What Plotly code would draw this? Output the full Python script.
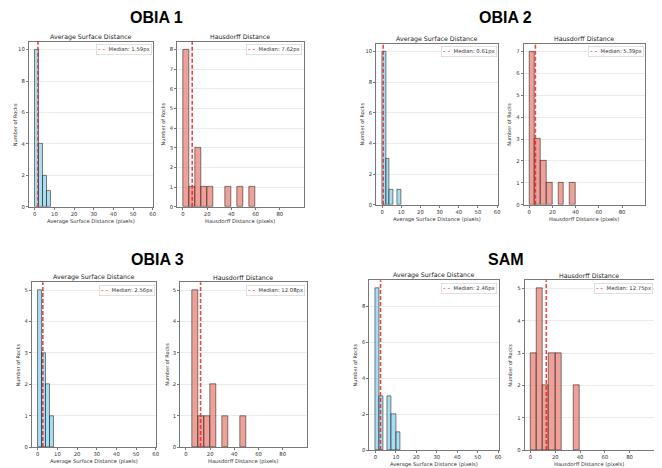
import plotly.graph_objects as go

# page body has an 8px margin: the figure is drawn from (8, 8) of the window
OFF = 8
W, H = 662 - OFF, 468 - OFF

# ---------------- data ----------------
methods = ["OBIA 1", "OBIA 2", "OBIA 3", "SAM"]

asd_bin_width = 2
asd_bin_starts = [0, 2, 4, 6, 8, 10]
obia1_asd_counts = [10, 4, 2, 1, 0, 0]
obia2_asd_counts = [10, 3, 1, 0, 1, 0]
obia3_asd_counts = [5, 3, 2, 1, 0, 0]
sam_asd_counts = [9, 3, 0, 3, 2, 1]

hd_bin_width = 5
hd_bin_starts = [0, 5, 10, 15, 20, 25, 30, 35, 40, 45, 50, 55]
obia1_hd_counts = [8, 1, 3, 1, 1, 0, 0, 1, 0, 1, 0, 1]
obia2_hd_counts = [7, 3, 2, 1, 0, 1, 0, 1, 0, 0, 0, 0]
obia3_hd_counts = [0, 5, 1, 1, 2, 0, 1, 0, 0, 1, 0, 0]
sam_hd_counts = [3, 5, 2, 3, 3, 0, 0, 2, 0, 0, 0, 0]

asd_medians = [1.59, 0.61, 2.56, 2.46]
hd_medians = [7.62, 5.39, 12.08, 12.75]

asd_ticks = [0, 10, 20, 30, 40, 50, 60]
hd_ticks = [0, 20, 40, 60, 80]

asd_title = "Average Surface Distance"
hd_title = "Hausdorff Distance"
asd_xlabel = "Average Surface Distance (pixels)"
hd_xlabel = "Hausdorff Distance (pixels)"
ylabel = "Number of Rocks"

# ---------------- layout geometry (window pixels) ----------------
asd_boxes = [(29, 154, 42, 208), (378, 500, 44, 206), (32, 157, 284, 450), (371, 501, 282, 453)]
hd_boxes = [(178, 305, 42, 208), (526, 648, 44, 206), (181, 308, 284, 450), (527, 657, 282, 453)]
title_pos = [(157, 18), (508, 18), (158, 261), (508, 261)]

asd_counts_all = [obia1_asd_counts, obia2_asd_counts, obia3_asd_counts, sam_asd_counts]
hd_counts_all = [obia1_hd_counts, obia2_hd_counts, obia3_hd_counts, sam_hd_counts]

ASD_FILL = "rgba(135,206,235,0.72)"
HD_FILL = "rgba(232,130,118,0.75)"
EDGE = "rgba(0,0,0,0.6)"
MED = "rgba(235,35,35,0.85)"
FONT = "DejaVu Sans"
TXT = "#333"

fig = go.Figure()
layout = dict(
    width=W, height=H, margin=dict(l=0, r=0, t=0, b=0),
    paper_bgcolor="white", plot_bgcolor="white", showlegend=False,
    font=dict(family=FONT, color=TXT),
)
annotations = []
shapes = []

def px(v):
    return (v - OFF) / W

def py(v):
    return 1 - (v - OFF) / H

def dom_x(a, b):
    return [px(a), px(b)]

def dom_y(t, b):
    return [py(b), py(t)]

ax_i = 0
for m_i, method in enumerate(methods):
    for kind in ("asd", "hd"):
        ax_i += 1
        xa = "x" if ax_i == 1 else f"x{ax_i}"
        ya = "y" if ax_i == 1 else f"y{ax_i}"
        xkey = "xaxis" if ax_i == 1 else f"xaxis{ax_i}"
        ykey = "yaxis" if ax_i == 1 else f"yaxis{ax_i}"
        if kind == "asd":
            box = asd_boxes[m_i]
            counts = asd_counts_all[m_i]
            starts = asd_bin_starts
            bw = asd_bin_width
            fill = ASD_FILL
            med = asd_medians[m_i]
            xr = [-3, 60.3]
            ticks = asd_ticks
            title = asd_title
            xlabel = asd_xlabel
        else:
            box = hd_boxes[m_i]
            counts = hd_counts_all[m_i]
            starts = hd_bin_starts
            bw = hd_bin_width
            fill = HD_FILL
            med = hd_medians[m_i]
            xr = [-4.75, 99.75]
            ticks = hd_ticks
            title = hd_title
            xlabel = hd_xlabel
        xs = [s for s, c in zip(starts, counts) if c > 0]
        ys = [c for c in counts if c > 0]
        fig.add_trace(go.Bar(
            x=xs, y=ys, width=[bw] * len(xs), offset=0,
            marker=dict(color=fill, line=dict(color=EDGE, width=0.8)),
            xaxis=xa, yaxis=ya, hoverinfo="skip",
        ))
        ymax = max(counts)
        dt = 2 if ymax >= 9 else 1
        l, r, t, b = box
        layout[xkey] = dict(
            domain=dom_x(l, r), anchor=ya, range=xr, tickvals=ticks,
            showgrid=False, zeroline=False, showline=True, mirror=True,
            linecolor="#777", linewidth=1, ticks="outside", ticklen=2,
            tickcolor="#777", tickfont=dict(size=5.3, color=TXT),
        )
        layout[ykey] = dict(
            domain=dom_y(t, b), anchor=xa, range=[0, ymax * 1.05], dtick=dt,
            showgrid=True, gridcolor="#ebebeb", gridwidth=0.8, zeroline=False,
            showline=True, mirror=True, linecolor="#777", linewidth=1,
            ticks="outside", ticklen=2, tickcolor="#777",
            tickfont=dict(size=5.3, color=TXT),
        )
        # median line
        shapes.append(dict(
            type="line", xref=xa, yref=f"{ya} domain", x0=med, x1=med, y0=0, y1=1,
            line=dict(color=MED, width=1.6, dash="4px,2px"), layer="above",
        ))
        # subplot title
        annotations.append(dict(
            text=title, xref=f"{xa} domain", yref=f"{ya} domain", x=0.5, y=1.0,
            xanchor="center", yanchor="middle", yshift=5, showarrow=False,
            font=dict(size=6.3, color="#222"),
        ))
        # x axis title
        annotations.append(dict(
            text=xlabel, xref=f"{xa} domain", yref=f"{ya} domain", x=0.5, y=0,
            xanchor="center", yanchor="middle", yshift=-14.5, showarrow=False,
            font=dict(size=5.2, color=TXT),
        ))
        # y axis title
        annotations.append(dict(
            text=ylabel, xref=f"{xa} domain", yref=f"{ya} domain", x=0, y=0.5,
            xanchor="center", yanchor="middle", xshift=-14, textangle=-90,
            showarrow=False, font=dict(size=5, color=TXT),
        ))
        # legend box
        annotations.append(dict(
            text=f"<span style='color:{MED}'><b>– –</b></span>  Median: {med:.2f}px",
            xref=f"{xa} domain", yref=f"{ya} domain", x=0.99, y=0.985,
            xanchor="right", yanchor="top", showarrow=False,
            font=dict(size=5.3, color=TXT), bgcolor="white",
            bordercolor="#cccccc", borderwidth=0.6, borderpad=1.5,
        ))

for method, (cx, cy) in zip(methods, title_pos):
    annotations.append(dict(
        text=f"<b>{method}</b>", xref="paper", yref="paper",
        x=px(cx), y=py(cy), xanchor="center", yanchor="middle",
        showarrow=False, font=dict(size=16, color="black", family="Liberation Sans"),
    ))

layout["annotations"] = annotations
layout["shapes"] = shapes
layout["bargap"] = 0
fig.update_layout(**layout)
fig.write_html("out.html")
